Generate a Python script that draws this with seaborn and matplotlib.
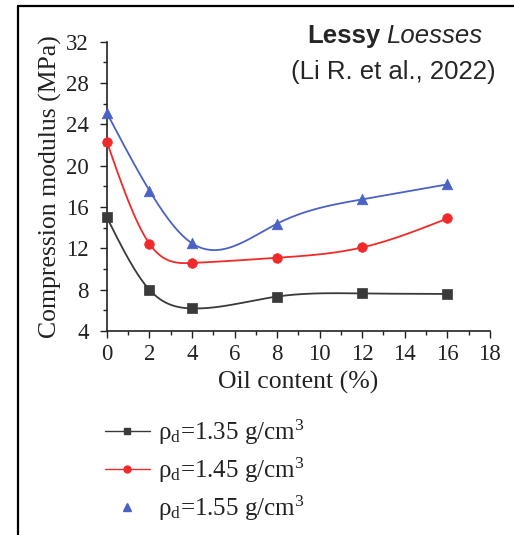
import numpy as np
import pandas as pd
import matplotlib
matplotlib.use("Agg")
import matplotlib.pyplot as plt
from matplotlib.lines import Line2D
import seaborn as sns

# Oil content (%) and compression modulus (MPa) for three dry densities
oil_content = [0, 2, 4, 8, 12, 16]
modulus_135 = [15.0, 8.0, 6.2, 7.35, 7.65, 7.6]
modulus_145 = [22.3, 12.45, 10.6, 11.1, 12.1, 14.9]
modulus_155 = [25.1, 17.6, 12.5, 14.4, 16.75, 18.2]

series_labels = [r"ρ$_\mathregular{d}$=1.35 g/cm$^\mathregular{3}$",
                 r"ρ$_\mathregular{d}$=1.45 g/cm$^\mathregular{3}$",
                 r"ρ$_\mathregular{d}$=1.55 g/cm$^\mathregular{3}$"]
series_colors = ["#3a3a3a", "#f02a2a", "#4a62c4"]
series_markers = ["s", "o", "^"]

x_ticks = [0, 2, 4, 6, 8, 10, 12, 14, 16, 18]
y_ticks = [4, 8, 12, 16, 20, 24, 28, 32]

sns.set_theme(style="ticks")
plt.rcParams["font.family"] = ["Liberation Serif", "DejaVu Serif"]
plt.rcParams["mathtext.fontset"] = "custom"
plt.rcParams["mathtext.rm"] = "Liberation Serif"
plt.rcParams["mathtext.it"] = "Liberation Serif:italic"


def natural_spline(x, y, n=200):
    """Smooth connecting curve through the measured points."""
    x = np.asarray(x, float)
    y = np.asarray(y, float)
    h = np.diff(x)
    m = len(x)
    A = np.zeros((m, m))
    b = np.zeros(m)
    A[0, 0] = A[-1, -1] = 1.0
    for i in range(1, m - 1):
        A[i, i - 1] = h[i - 1]
        A[i, i] = 2 * (h[i - 1] + h[i])
        A[i, i + 1] = h[i]
        b[i] = 6 * ((y[i + 1] - y[i]) / h[i] - (y[i] - y[i - 1]) / h[i - 1])
    M = np.linalg.solve(A, b)
    xs = np.linspace(x[0], x[-1], n)
    idx = np.clip(np.searchsorted(x, xs) - 1, 0, m - 2)
    x0, x1 = x[idx], x[idx + 1]
    hh = x1 - x0
    ys = (M[idx] * (x1 - xs) ** 3 / (6 * hh) + M[idx + 1] * (xs - x0) ** 3 / (6 * hh)
          + (y[idx] / hh - M[idx] * hh / 6) * (x1 - xs)
          + (y[idx + 1] / hh - M[idx + 1] * hh / 6) * (xs - x0))
    return xs, ys


fig = plt.figure(figsize=(5.14, 5.35), dpi=100)
ax = fig.add_axes([0.208, 0.381, 0.745, 0.541])

for vals, col, mk, ms in zip([modulus_135, modulus_145, modulus_155],
                             series_colors, series_markers, [50, 48, 58]):
    xs, ys = natural_spline(oil_content, vals)
    sns.lineplot(x=xs, y=ys, ax=ax, color=col, lw=1.3, sort=False)
    sns.scatterplot(x=oil_content, y=vals, ax=ax, color=col, marker=mk,
                    s=ms, edgecolor=col, linewidth=0.5, clip_on=False, zorder=5)

ax.set_xlim(0, 18)
ax.set_ylim(4, 32)
ax.set_xticks(x_ticks)
ax.set_yticks(y_ticks)
ax.set_xticks(np.arange(1, 18, 2), minor=True)
ax.set_yticks(np.arange(6, 32, 4), minor=True)
ax.tick_params(which="major", direction="out", length=5, width=1, labelsize=16.5,
               colors="#222222")
ax.tick_params(which="minor", direction="out", length=3, width=1, colors="#222222")
ax.tick_params(axis="x", which="major", pad=4.5)
ax.tick_params(axis="y", which="major", pad=8)
sns.despine(ax=ax)
for s in ["left", "bottom"]:
    ax.spines[s].set_linewidth(1.2)
    ax.spines[s].set_color("#222222")
ax.set_xlabel("Oil content (%)", fontsize=18.5, color="#222222", labelpad=4)
ax.set_ylabel("Compression modulus (MPa)", fontsize=18.5, color="#222222", labelpad=3)

handles = [
    Line2D([], [], color=series_colors[0], marker="s", ms=5, lw=1.0),
    Line2D([], [], color=series_colors[1], marker="o", ms=5, lw=1.0),
    Line2D([], [], color=series_colors[2], marker="^", ms=6, lw=0),
]
fig.legend(handles, series_labels, loc="upper left", bbox_to_anchor=(0.16, 0.262),
           frameon=False, fontsize=18, handlelength=1.8, handletextpad=0.35,
           labelspacing=0.36, labelcolor="#222222")

fig.text(0.7405, 0.932, "Lessy", fontsize=18.5, fontweight="bold",
         family="Liberation Sans", ha="right", va="center")
fig.text(0.7505, 0.932, "Loesses", fontsize=18.5, style="italic",
         family="Liberation Sans", ha="left", va="center")
fig.text(0.765, 0.866, "(Li R. et al., 2022)", fontsize=18.5,
         family="Liberation Sans", ha="center", va="center")

# outer frame lines (top and left)
fig.add_artist(Line2D([18 / 514, 1], [1 - 6 / 535, 1 - 6 / 535],
                      transform=fig.transFigure, color="black", lw=1.6))
fig.add_artist(Line2D([18 / 514, 18 / 514], [0, 1 - 6 / 535],
                      transform=fig.transFigure, color="black", lw=1.6))

fig.savefig("out.png", dpi=100)
